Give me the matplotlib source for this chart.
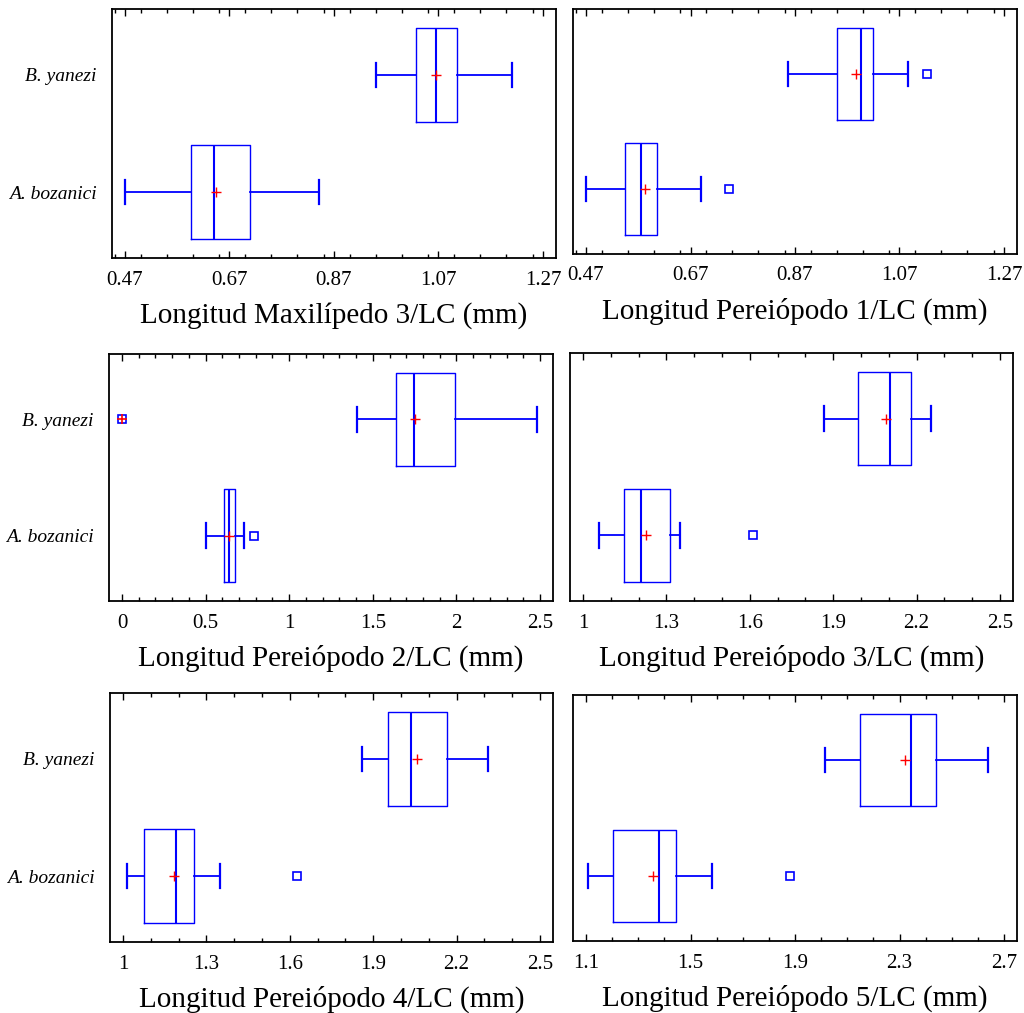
'''Box-and-whisker plots of appendage lengths / LC for two species.'''

import numpy as np
import matplotlib
matplotlib.use('Agg')
import matplotlib.pyplot as plt
from matplotlib.ticker import MultipleLocator

# Species, bottom to top
species = ['A. bozanici', 'B. yanezi']

xlabels = ['Longitud Maxilípedo 3/LC (mm)',
           'Longitud Pereiópodo 1/LC (mm)',
           'Longitud Pereiópodo 2/LC (mm)',
           'Longitud Pereiópodo 3/LC (mm)',
           'Longitud Pereiópodo 4/LC (mm)',
           'Longitud Pereiópodo 5/LC (mm)']

# Box statistics, one row per panel: [A. bozanici, B. yanezi]
whislo = [[0.470, 0.950], [0.470, 0.857], [0.504, 1.408],
          [1.057, 1.866], [1.013, 1.858], [1.106, 2.013]]
q1 = [[0.597, 1.026], [0.544, 0.950], [0.610, 1.641],
      [1.149, 1.990], [1.076, 1.954], [1.202, 2.148]]
med = [[0.640, 1.066], [0.576, 0.996], [0.637, 1.745],
       [1.210, 2.104], [1.192, 2.036], [1.380, 2.344]]
q3 = [[0.709, 1.106], [0.606, 1.019], [0.673, 1.992],
      [1.313, 2.179], [1.255, 2.164], [1.445, 2.439]]
whishi = [[0.841, 1.211], [0.690, 1.086], [0.729, 2.480],
          [1.350, 2.250], [1.350, 2.312], [1.583, 2.639]]
means = [[0.645, 1.066], [0.582, 0.986], [0.637, 1.753],
         [1.225, 2.089], [1.182, 2.058], [1.358, 2.321]]
# outside points and far outside points (square with a plus)
fliers = [[[], []], [[0.744], [1.123]], [[0.787], []],
          [[1.610], []], [[1.626], []], [[1.880], []]]
far_fliers = [[[], []], [[], []], [[], [0.0]],
              [[], []], [[], []], [[], []]]

# Axis ticks
major_start = [0.47, 0.47, 0.0, 1.0, 1.0, 1.1]
major_stop = [1.27, 1.27, 2.5, 2.5, 2.5, 2.7]
major_step = [0.2, 0.2, 0.5, 0.3, 0.3, 0.4]
minor_step = [0.05, 0.05, 0.1, 0.1, 0.1, 0.1]
tick_fmt = ['%.2f', '%.2f', '%g', '%g', '%g', '%g']

# Axes boxes in pixels (left, top, right, bottom)
W, H = 1024, 1013
boxes = [(112, 9, 556, 258), (573, 9, 1017, 254),
         (109, 354, 553, 601), (570, 353, 1013, 601),
         (110, 693, 553, 942), (573, 695, 1017, 941)]

plt.rcParams['font.family'] = ['Liberation Serif', 'DejaVu Serif']

fig = plt.figure(figsize=(W/100, H/100), dpi=100)
blue = '#0000ff'

for ii in range(6):
    l, t, r, b = boxes[ii]
    ax = fig.add_axes([l/W, 1 - b/H, (r - l)/W, (b - t)/H])

    stats = []
    for jj in range(2):
        stats.append(dict(whislo=whislo[ii][jj], q1=q1[ii][jj],
                          med=med[ii][jj], q3=q3[ii][jj],
                          whishi=whishi[ii][jj], mean=means[ii][jj],
                          fliers=fliers[ii][jj] + far_fliers[ii][jj]))
    ax.bxp(stats, positions=[1, 2], widths=0.8, vert=False,
           showmeans=True, showfliers=True,
           boxprops=dict(color=blue, lw=1.0),
           whiskerprops=dict(color=blue, lw=1.3),
           capprops=dict(color=blue, lw=1.6),
           medianprops=dict(color=blue, lw=1.5),
           meanprops=dict(marker='+', markeredgecolor='red',
                          markersize=7, markeredgewidth=1.0),
           flierprops=dict(marker='s', markerfacecolor='none',
                           markeredgecolor=blue, markersize=5.5,
                           markeredgewidth=1.2),
           capwidths=0.21)
    # plus sign over far outside points
    for jj in range(2):
        for v in far_fliers[ii][jj]:
            ax.plot(v, jj + 1, '+', color='red', ms=7, mew=1.2)

    start, stop, step = major_start[ii], major_stop[ii], major_step[ii]
    span = stop - start
    pad = span*13/418
    ax.set_xlim(start - pad, stop + pad)
    ax.set_ylim(0.436, 2.564)
    ticks = np.arange(start, stop + step/2, step)
    ax.set_xticks(ticks)
    ax.set_xticklabels([tick_fmt[ii] % v for v in ticks])
    ax.xaxis.set_minor_locator(MultipleLocator(minor_step[ii]))
    ax.tick_params(axis='x', which='both', direction='in', top=True,
                   bottom=True, labelsize=15, pad=9, width=1.0)
    ax.tick_params(axis='x', which='major', length=5)
    ax.tick_params(axis='x', which='minor', length=3)
    ax.set_xlabel(xlabels[ii], fontsize=21, labelpad=9)

    if ii % 2 == 0:
        ax.set_yticks([1, 2])
        ax.set_yticklabels(species, fontstyle='italic', fontsize=14)
        ax.tick_params(axis='y', length=0, pad=11)
    else:
        ax.set_yticks([])

    for s in ax.spines.values():
        s.set_linewidth(1.3)

fig.savefig('out.png', dpi=100)
